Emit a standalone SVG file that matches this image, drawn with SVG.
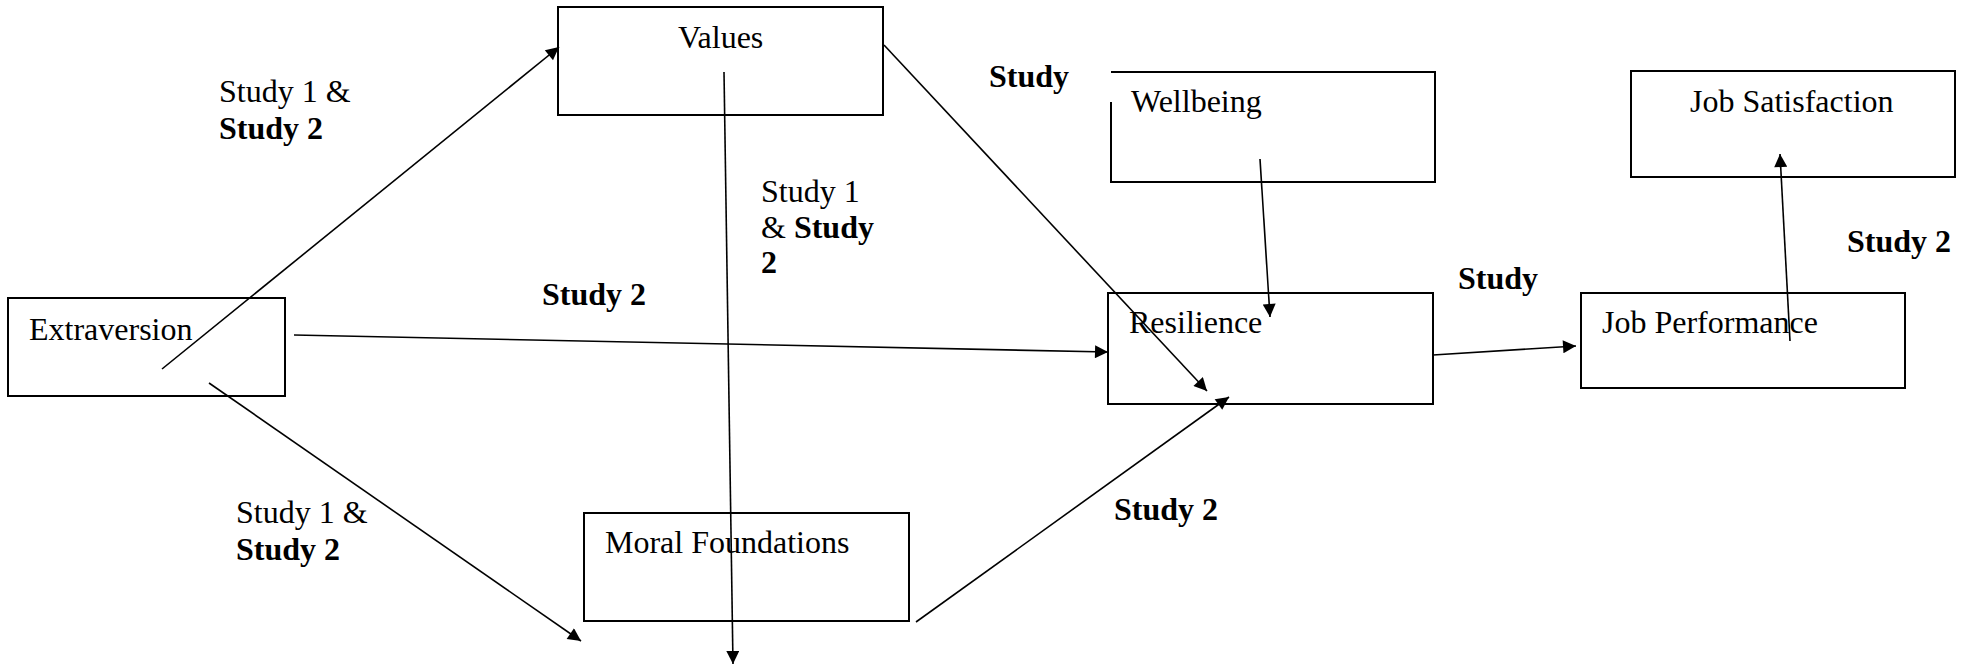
<svg xmlns="http://www.w3.org/2000/svg" width="1961" height="668" viewBox="0 0 1961 668">
<style>
.box{fill:#fff;stroke:#000;stroke-width:2}
.t{font-family:"Liberation Serif",serif;font-size:32px;fill:#000}
.b{font-family:"Liberation Serif",serif;font-weight:700}
.c{stroke:#000;stroke-width:1.6;fill:none}
</style>
<defs>
<marker id="ah" viewBox="0 0 10 10" refX="10" refY="5" markerWidth="15" markerHeight="13" markerUnits="userSpaceOnUse" orient="auto">
<path d="M0,0 L10,5 L0,10 z" fill="#000"/>
</marker>
</defs>
<rect width="1961" height="668" fill="#fff"/>
<g id="values"><rect class="box" x="558" y="7" width="325" height="108"/><text class="t" x="678" y="48">Values</text></g>
<g id="extraversion"><rect class="box" x="8" y="298" width="277" height="98"/><text class="t" x="29" y="340">Extraversion</text></g>
<g id="wellbeing"><path class="box" d="M1111,102 L1111,182 L1435,182 L1435,72 L1111,72"/><text class="t" x="1131" y="112">Wellbeing</text></g>
<g id="jobsatisfaction"><rect class="box" x="1631" y="71" width="324" height="106"/><text class="t" x="1690" y="112">Job Satisfaction</text></g>
<g id="resilience"><rect class="box" x="1108" y="293" width="325" height="111"/><text class="t" x="1129" y="333">Resilience</text></g>
<g id="jobperformance"><rect class="box" x="1581" y="293" width="324" height="95"/><text class="t" x="1602" y="333">Job Performance</text></g>
<g id="moralfoundations"><rect class="box" x="584" y="513" width="325" height="108"/><text class="t" x="605" y="553">Moral Foundations</text></g>
<g id="connectors">
<line class="c" x1="162" y1="369" x2="559" y2="47" marker-end="url(#ah)"/>
<line class="c" x1="724" y1="72" x2="733" y2="664" marker-end="url(#ah)"/>
<line class="c" x1="884" y1="45" x2="1207" y2="391" marker-end="url(#ah)"/>
<line class="c" x1="294" y1="335" x2="1108" y2="352" marker-end="url(#ah)"/>
<line class="c" x1="209" y1="383" x2="581" y2="641" marker-end="url(#ah)"/>
<line class="c" x1="916" y1="622" x2="1229" y2="397" marker-end="url(#ah)"/>
<line class="c" x1="1260" y1="159" x2="1270" y2="317" marker-end="url(#ah)"/>
<line class="c" x1="1433" y1="355" x2="1576" y2="346" marker-end="url(#ah)"/>
<line class="c" x1="1790" y1="341" x2="1780" y2="154" marker-end="url(#ah)"/>
</g>
<g id="labels">
<text class="t" x="219" y="102">Study 1 &amp;</text>
<text class="t b" x="219" y="139">Study 2</text>
<text class="t" x="761" y="202">Study 1</text>
<text class="t" x="761" y="238">&amp; <tspan class="b">Study</tspan></text>
<text class="t b" x="761" y="273">2</text>
<text class="t b" x="542" y="305">Study 2</text>
<text class="t b" x="989" y="87">Study</text>
<text class="t b" x="1847" y="252">Study 2</text>
<text class="t b" x="1458" y="289">Study</text>
<text class="t" x="236" y="523">Study 1 &amp;</text>
<text class="t b" x="236" y="560">Study 2</text>
<text class="t b" x="1114" y="520">Study 2</text>
</g>
</svg>
